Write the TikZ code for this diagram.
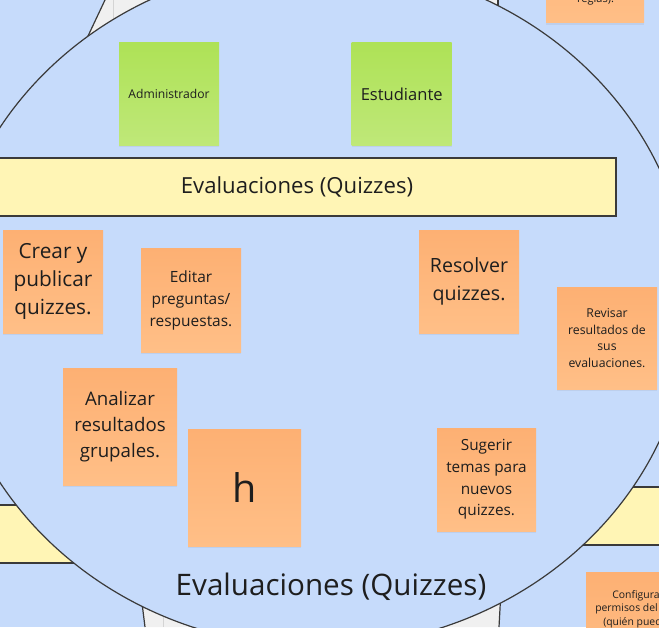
\documentclass[tikz,border=0pt]{standalone}
\usepackage{fontspec}
\setmainfont{Open Sans}
\usetikzlibrary{shadows}

\begin{document}
\begin{tikzpicture}[x=0.75pt, y=-0.75pt,
    note/.style={inner sep=0pt, align=center, text=textColour,
        drop shadow={shadow xshift=0pt, shadow yshift=-1.2pt, opacity=0.12}},
    orangeNote/.style={note, top color=orangeTop, bottom color=orangeBottom},
    greenNote/.style={note, top color=greenTop, bottom color=greenBottom},
    noteSize/.style 2 args={minimum width=#1*0.75pt, minimum height=#2*0.75pt},
    edge/.style={draw=borderColour, line width=0.9pt},
    seam/.style={draw=seamColour, line width=0.5pt}]

    % Define colours
    \definecolor{bgColour}{HTML}{C6DBFB}
    \definecolor{borderColour}{HTML}{3A3A3A}
    \definecolor{bandColour}{HTML}{FFF5B5}
    \definecolor{wedgeColour}{HTML}{F0F0F0}
    \definecolor{seamColour}{HTML}{D4D4D4}
    \definecolor{orangeTop}{HTML}{FDB073}
    \definecolor{orangeBottom}{HTML}{FFBF87}
    \definecolor{greenTop}{HTML}{AEE256}
    \definecolor{greenBottom}{HTML}{BFE879}
    \definecolor{textColour}{HTML}{1E1E1E}

    % Fix the frame
    \useasboundingbox (0,0) rectangle (659,627);
    \clip (0,0) rectangle (659,627);
    \fill[bgColour] (0,0) rectangle (659,627);

    % Draw the outer pieces behind the circle
    \fill[wedgeColour] (105,0) -- (80,53) -- (200,53) -- (200,0) -- cycle;
    \draw[seam] (113,0) -- (113,30);
    \draw[edge] (105,0) -- (80,53);
    \fill[wedgeColour] (498,0) -- (498,20) -- (470,20) -- (470,0) -- cycle;
    \draw[edge] (498,0) -- (498,20);
    \fill[wedgeColour] (141,595) -- (145,627) -- (250,627) -- (250,595) -- cycle;
    \draw[seam] (163,600) -- (163,627);
    \draw[edge] (141,595) -- (145,627);
    \fill[wedgeColour] (380,590) -- (380,627) -- (499,627) -- (501,590) -- cycle;
    \draw[edge] (501,590) -- (499,627);
    \draw[fill=bandColour, edge] (-5,505) rectangle (120,563);
    \draw[fill=bandColour, edge] (560,487) rectangle (665,545);

    % Draw the circle
    \draw[fill=bgColour, edge] (318,305) ellipse [x radius=372, y radius=342];

    % Draw the roles
    \node[greenNote, noteSize={100}{103}, font=\fontsize{9.1}{12}\selectfont] (admin) at (169,94) {Administrador};
    \node[greenNote, noteSize={100}{103}, font=\fontsize{12.4}{16}\selectfont] (student) at (401.7,94) {Estudiante};

    % Draw the band
    \node[fill=bandColour, edge, inner sep=0pt, minimum width=638*0.75pt, minimum height=58*0.75pt,
        text=textColour, font=\fontsize{16.6}{20}\selectfont] (quizBand) at (297,187) {Evaluaciones (Quizzes)};

    % Draw the tasks
    \node[orangeNote, noteSize={100}{103}, font=\fontsize{15.6}{21.2}\selectfont] (create) at (53,281.5) {Crear y\\publicar\\quizzes.};
    \node[orangeNote, noteSize={100}{104}, font=\fontsize{11.6}{16.5}\selectfont] (edit) at (191,300) {Editar\\preguntas/\\respuestas.};
    \node[orangeNote, noteSize={114}{117}, font=\fontsize{14}{19.5}\selectfont] (analyse) at (120,426.5) {Analizar\\resultados\\grupales.};
    \node[orangeNote, noteSize={113}{117}, font=\fontsize{29.6}{36}\selectfont] (hNote) at (244.5,487.5) {h};
    \node[orangeNote, noteSize={100}{103}, font=\fontsize{14.7}{20.8}\selectfont] (solve) at (469,281.5) {Resolver\\quizzes.};
    \node[orangeNote, noteSize={100}{102}, font=\fontsize{9.2}{12.5}\selectfont] (review) at (607,338) {Revisar\\resultados de\\sus\\evaluaciones.};
    \node[orangeNote, noteSize={99}{103}, font=\fontsize{11.5}{16.3}\selectfont] (suggest) at (486.5,479.5) {Sugerir\\temas para\\nuevos\\quizzes.};

    % Draw the cut-off notes
    \node[orangeNote, noteSize={98}{103}] (rules) at (595,-28.5) {};
    \node[anchor=base, inner sep=0pt, text=textColour, font=\fontsize{8.3}{10}\selectfont] (rulesText) at (595.5,3) {reglas).};
    \node[orangeNote, noteSize={100}{103}] (config) at (636,623.5) {};
    \node[anchor=base west, inner sep=0pt, text=textColour, font=\fontsize{7.8}{10}\selectfont] (configA) at (612,598) {Configurar};
    \node[anchor=base west, inner sep=0pt, text=textColour, font=\fontsize{7.8}{10}\selectfont] (configB) at (595,611) {permisos del e};
    \node[anchor=base west, inner sep=0pt, text=textColour, font=\fontsize{7.8}{10}\selectfont] (configC) at (603,625) {(quién pued};

    % Draw the title
    \node[text=textColour, inner sep=0pt, font=\fontsize{22.2}{26}\selectfont] (title) at (331,587) {Evaluaciones (Quizzes)};

\end{tikzpicture}
\end{document}
